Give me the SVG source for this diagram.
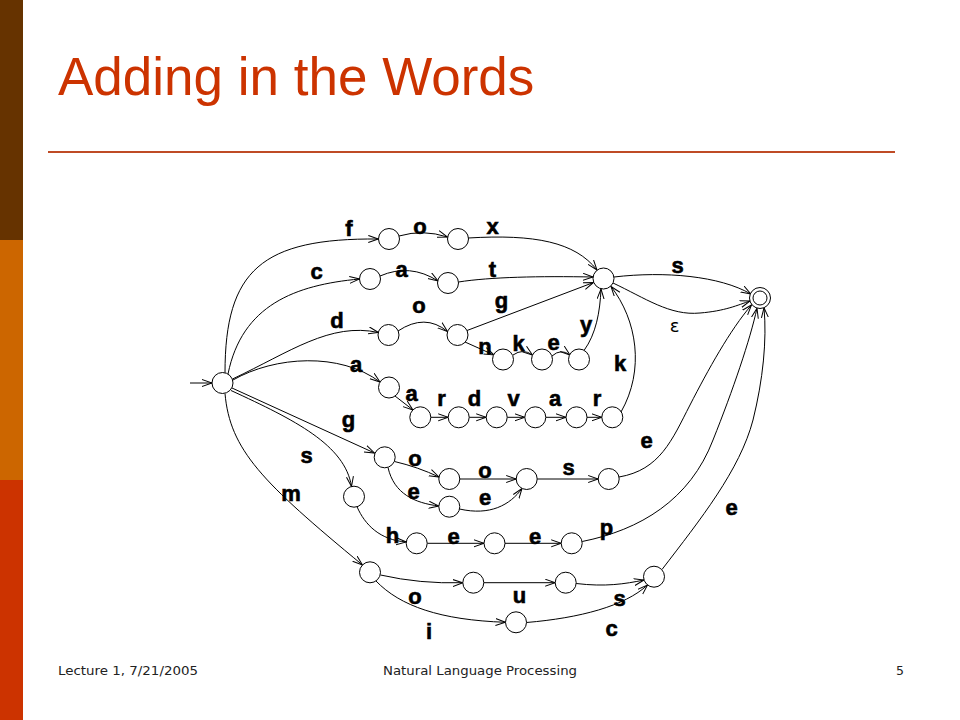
<svg xmlns="http://www.w3.org/2000/svg" width="960" height="720" viewBox="0 0 960 720">
<style>
.node{fill:#fff;stroke:#000;stroke-width:1}
.edge{fill:none;stroke:#000;stroke-width:1;marker-end:url(#arr)}
.lbl{font-family:"Liberation Sans",Arial,sans-serif;font-weight:bold;font-size:22px;fill:#000;stroke:#000;stroke-width:0.6;text-anchor:middle}
.foot{font-family:"DejaVu Sans",Tahoma,sans-serif;font-size:12.5px;fill:#222}
</style>
<defs>
<marker id="arr" markerUnits="userSpaceOnUse" markerWidth="12" markerHeight="10" refX="10" refY="4" orient="auto">
<path d="M0,0.5 L10,4 L0,7.5" fill="none" stroke="#000" stroke-width="1"/>
</marker>
</defs>
<rect width="960" height="720" fill="#fff"/>
<g id="sidebar">
<rect x="0" y="0" width="23" height="240" fill="#663300"/>
<rect x="0" y="240" width="23" height="240" fill="#CC6600"/>
<rect x="0" y="480" width="23" height="240" fill="#CC3300"/>
</g>
<g id="title">
<text x="58" y="95" font-family="'Liberation Sans',Arial,sans-serif" font-size="53" fill="#CC3300">Adding in the Words</text>
<line x1="48" y1="152" x2="895" y2="152" stroke="#BF4B25" stroke-width="2"/>
</g>
<g id="connectors">
<path class="edge" d="M190,383 L212,383"/>
<path class="edge" d="M225,372.8 C225,270 262,238 378.3,239"/>
<path class="edge" d="M399,236 Q423,229 447.5,237"/>
<path class="edge" d="M468,238 C535,234 575,242 597,270"/>
<path class="edge" d="M228,374 C242,305 295,285 359.5,279"/>
<path class="edge" d="M380,276 Q410,263 438,281"/>
<path class="edge" d="M458.5,282 C490,277 540,276 593,277"/>
<path class="edge" d="M232.5,379 C290,352 330,322 378.5,332.5"/>
<path class="edge" d="M398,331 Q425,313 447.5,331.5"/>
<path class="edge" d="M467,330.5 L593.5,282.5"/>
<path class="edge" d="M465,342 L494,355"/>
<path class="edge" d="M513,355 Q523,348 532.5,355"/>
<path class="edge" d="M552,356 Q561,348 570,355"/>
<path class="edge" d="M584,350.5 C596,334 600,312 601,289"/>
<path class="edge" d="M233,380 C275,356 340,352 380,382"/>
<path class="edge" d="M395,396 L413,410"/>
<path class="edge" d="M430.8,417.3 L448.2,417.3"/>
<path class="edge" d="M469.2,417.3 L486.2,417.3"/>
<path class="edge" d="M507.2,417.3 L524.8,417.3"/>
<path class="edge" d="M545.8,417.3 L566,417.3"/>
<path class="edge" d="M587,417.3 L601.8,417.3"/>
<path class="edge" d="M621,412 C645,370 637,320 611,286.5"/>
<path class="edge" d="M614,277 C665,271 720,276 750.8,294"/>
<path class="edge" d="M613,283 C645,298 670,316 700,313 C725,311 738,305 750,301"/>
<path class="edge" d="M232,388 L374.5,453"/>
<path class="edge" d="M231,390.5 C295,420 345,445 351.5,486.5"/>
<path class="edge" d="M225,393.5 C230,450 262,482 362.5,565"/>
<path class="edge" d="M394.5,461.5 Q418,467 439,477"/>
<path class="edge" d="M388,467.5 C394,494 415,503 438.8,506"/>
<path class="edge" d="M459.8,479 L516.2,479"/>
<path class="edge" d="M459.5,509 C490,516 510,505 522,488.5"/>
<path class="edge" d="M537.2,479 L598.2,479"/>
<path class="edge" d="M619,477 C660,470 672,440 690,405 C708,370 730,330 751.5,305"/>
<path class="edge" d="M357,506.7 C365,525 380,540 406.2,542"/>
<path class="edge" d="M427.2,543.3 L484,543.3"/>
<path class="edge" d="M505,543.3 L561.2,543.3"/>
<path class="edge" d="M582.2,541.5 C640,530 690,500 713,440 C733,390 750,340 757,308.2"/>
<path class="edge" d="M380.5,575 Q420,584 462.8,582.7"/>
<path class="edge" d="M376,581 C400,606 440,620 505.5,622.3"/>
<path class="edge" d="M483.8,582.7 L555.2,582.7"/>
<path class="edge" d="M576.2,583.5 C605,587 625,584 644,580"/>
<path class="edge" d="M526.5,622.5 C580,618 625,606 647.5,585"/>
<path class="edge" d="M662,569.5 C700,520 740,470 753,420 C763,380 767,340 764,307.7"/>
</g>
<g id="nodes">
<g id="start"><circle class="node" cx="222.5" cy="383" r="10.5"/></g>
<g id="f1"><circle class="node" cx="389" cy="239" r="10.5"/></g>
<g id="fo"><circle class="node" cx="458" cy="239" r="10.5"/></g>
<g id="hub"><circle class="node" cx="603.5" cy="278.5" r="10.5"/></g>
<g id="final"><circle class="node" cx="760" cy="298" r="10.5"/><circle class="node" cx="760" cy="298" r="7"/></g>
<g id="c1"><circle class="node" cx="370" cy="279" r="10.5"/></g>
<g id="ca"><circle class="node" cx="448" cy="283" r="10.5"/></g>
<g id="d1"><circle class="node" cx="388.5" cy="335" r="10.5"/></g>
<g id="do"><circle class="node" cx="457.5" cy="335" r="10.5"/></g>
<g id="don"><circle class="node" cx="503" cy="359.5" r="10.5"/></g>
<g id="donk"><circle class="node" cx="542" cy="359.5" r="10.5"/></g>
<g id="donke"><circle class="node" cx="579" cy="359.5" r="10.5"/></g>
<g id="a1"><circle class="node" cx="389" cy="387.5" r="10.5"/></g>
<g id="aa"><circle class="node" cx="420.3" cy="417.3" r="10.5"/></g>
<g id="aar"><circle class="node" cx="458.7" cy="417.3" r="10.5"/></g>
<g id="aard"><circle class="node" cx="496.7" cy="417.3" r="10.5"/></g>
<g id="aardv"><circle class="node" cx="535.3" cy="417.3" r="10.5"/></g>
<g id="aardva"><circle class="node" cx="576.5" cy="417.3" r="10.5"/></g>
<g id="aardvar"><circle class="node" cx="612.3" cy="417.3" r="10.5"/></g>
<g id="g1"><circle class="node" cx="384.7" cy="457.3" r="10.5"/></g>
<g id="go"><circle class="node" cx="449.3" cy="479" r="10.5"/></g>
<g id="ge"><circle class="node" cx="449.3" cy="506.7" r="10.5"/></g>
<g id="goo"><circle class="node" cx="526.7" cy="479" r="10.5"/></g>
<g id="goos"><circle class="node" cx="608.7" cy="479" r="10.5"/></g>
<g id="s1"><circle class="node" cx="354" cy="496.7" r="10.5"/></g>
<g id="sh"><circle class="node" cx="416.7" cy="543.3" r="10.5"/></g>
<g id="she"><circle class="node" cx="494.5" cy="543.3" r="10.5"/></g>
<g id="shee"><circle class="node" cx="571.7" cy="543.3" r="10.5"/></g>
<g id="m1"><circle class="node" cx="370" cy="572.3" r="10.5"/></g>
<g id="mo"><circle class="node" cx="473.3" cy="582.7" r="10.5"/></g>
<g id="mou"><circle class="node" cx="565.7" cy="582.7" r="10.5"/></g>
<g id="mous"><circle class="node" cx="654" cy="576.7" r="10.5"/></g>
<g id="mi"><circle class="node" cx="516" cy="622.3" r="10.5"/></g>
</g>
<g id="labels">
<text class="lbl" x="349" y="235.5">f</text>
<text class="lbl" x="420" y="233.5">o</text>
<text class="lbl" x="492.5" y="233.5">x</text>
<text class="lbl" x="316.5" y="278.5">c</text>
<text class="lbl" x="401.5" y="277">a</text>
<text class="lbl" x="492.5" y="276.5">t</text>
<text class="lbl" x="337" y="327.5">d</text>
<text class="lbl" x="419" y="312.5">o</text>
<text class="lbl" x="501.5" y="308">g</text>
<text class="lbl" x="485" y="354">n</text>
<text class="lbl" x="518.5" y="351">k</text>
<text class="lbl" x="553.5" y="349.5">e</text>
<text class="lbl" x="586" y="331.5">y</text>
<text class="lbl" x="620" y="371">k</text>
<text class="lbl" x="356" y="371.5">a</text>
<text class="lbl" x="411.5" y="400.5">a</text>
<text class="lbl" x="441.5" y="405.5">r</text>
<text class="lbl" x="474.5" y="405.5">d</text>
<text class="lbl" x="513.5" y="405.5">v</text>
<text class="lbl" x="555" y="405.5">a</text>
<text class="lbl" x="597" y="405.5">r</text>
<text class="lbl" x="677.5" y="272.5">s</text>
<text x="674.5" y="332" font-family="'DejaVu Sans',sans-serif" font-size="18" text-anchor="middle" fill="#000">ε</text>
<text class="lbl" x="348.5" y="427">g</text>
<text class="lbl" x="306.5" y="462.5">s</text>
<text class="lbl" x="291" y="501">m</text>
<text class="lbl" x="415" y="465.5">o</text>
<text class="lbl" x="413.5" y="499">e</text>
<text class="lbl" x="485" y="477.5">o</text>
<text class="lbl" x="485" y="505">e</text>
<text class="lbl" x="568.5" y="475">s</text>
<text class="lbl" x="646.5" y="447.5">e</text>
<text class="lbl" x="392.5" y="542.5">h</text>
<text class="lbl" x="453.5" y="544">e</text>
<text class="lbl" x="535" y="544">e</text>
<text class="lbl" x="606.5" y="534.5">p</text>
<text class="lbl" x="731.5" y="515">e</text>
<text class="lbl" x="415" y="604">o</text>
<text class="lbl" x="429" y="638.5">i</text>
<text class="lbl" x="519.5" y="603">u</text>
<text class="lbl" x="619.5" y="605.5">s</text>
<text class="lbl" x="611.5" y="635.5">c</text>
</g>
<g id="footer">
<text class="foot" x="58" y="675" textLength="140" lengthAdjust="spacingAndGlyphs">Lecture 1, 7/21/2005</text>
<text class="foot" x="383" y="675" textLength="194" lengthAdjust="spacingAndGlyphs">Natural Language Processing</text>
<text class="foot" x="896" y="675">5</text>
</g>
</svg>
